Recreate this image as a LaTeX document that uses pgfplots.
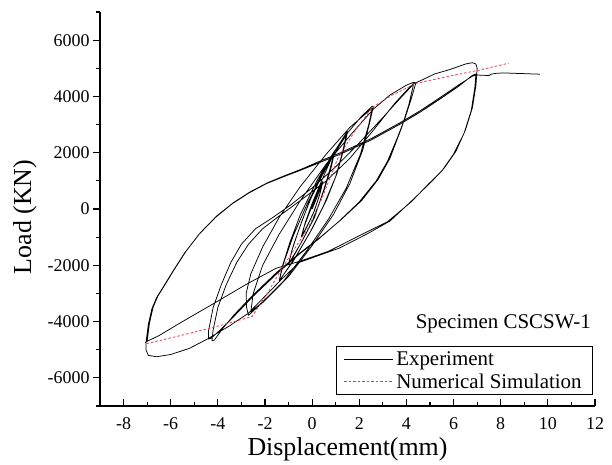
\documentclass[border=0pt]{standalone}
\usepackage{pgfplots}
\pgfplotsset{compat=1.18}
\usepackage{fontspec}
\setmainfont{Liberation Serif}
\definecolor{simred}{HTML}{E0404A}
\newcommand{\tickfont}{\fontsize{18}{20}\selectfont}
\newcommand{\labfont}{\fontsize{26}{30}\selectfont}
\newcommand{\legfont}{\fontsize{21}{24}\selectfont}

\begin{document}
\begin{tikzpicture}
\path[use as bounding box] (-100bp,-59bp) rectangle (512bp,406bp);
\begin{axis}[
  at={(0,0)}, anchor=south west,
  scale only axis, width=495bp, height=394bp,
  xmin=-9, xmax=12, ymin=-7000, ymax=7000,
  axis lines*=left,
  axis line style={line width=1.2bp},
  every tick/.style={line width=1.1bp, black},
  major tick length=7bp, minor tick length=4bp,
  xtick={-8,-6,-4,-2,0,2,4,6,8,10,12},
  xticklabels={-8,-6,-4,-2,0,2,4,6,8,10,12},
  minor xtick={-9,-7,-5,-3,-1,1,3,5,7,9,11},
  ytick={-6000,-4000,-2000,0,2000,4000,6000},
  yticklabels={-6000,-4000,-2000,0,2000,4000,6000},
  minor ytick={-7000,-5000,-3000,-1000,1000,3000,5000,7000},
  xtick align=inside, ytick align=outside,
  tick label style={font=\tickfont},
  xticklabel style={anchor=base, yshift=-23bp},
  xlabel={Displacement(mm)}, ylabel={Load (KN)},
  every axis x label/.style={at={(axis description cs:0.5,0)}, anchor=base, yshift=-49bp, font=\labfont},
  every axis y label/.style={at={(axis description cs:-0.1515,0.48)}, rotate=90, anchor=center, font=\labfont},
  legend style={at={(axis description cs:0.995,0.028)}, anchor=south east,
    draw=black, line width=0.8bp, fill=white, font=\legfont,
    inner xsep=8bp, inner ysep=4bp, row sep=5bp,
    nodes={inner xsep=2.5bp, inner ysep=1bp}},
  legend cell align=left,
  legend image code/.code={\draw[#1] (0bp,0bp) -- (49bp,0bp);},
  clip=false,
]
\addplot[black, line width=0.75bp, line join=round] coordinates {
(0,0) (0.2,400) (0.4,850) (0.45,950)
(0.35,600) (0.1,-50) (-0.15,-500) (-0.4,-900) (-0.45,-950)
(-0.35,-650) (-0.1,-100) (0.15,400) (0.4,900) (0.45,980)
(0.3,450) (0.05,-150) (-0.2,-600) (-0.45,-1000)
(-0.3,-500) (0,200) (0.4,1000) (0.85,1850) (0.9,1900)
(0.75,1400) (0.5,700) (0.1,-300) (-0.4,-1100) (-0.9,-1850) (-1.0,-1950)
(-0.85,-1450) (-0.55,-700) (-0.1,300) (0.4,1150) (0.9,1950) (0.95,2000)
(0.8,1450) (0.5,650) (0.0,-450) (-0.5,-1250) (-1.0,-1950)
(-0.8,-1300) (-0.4,-350) (0.2,900) (0.8,1850) (1.45,2700) (1.5,2750)
(1.35,2150) (1.05,1250) (0.6,300) (0.0,-700) (-0.7,-1700) (-1.35,-2500) (-1.4,-2550)
(-1.25,-2000) (-0.95,-1200) (-0.5,-200) (0.2,1000) (0.9,2000) (1.45,2650)
(1.3,2050) (1.0,1150) (0.5,150) (-0.1,-850) (-0.8,-1850) (-1.4,-2550)
(-1.2,-1900) (-0.8,-950) (-0.2,200) (0.6,1500) (1.5,2700) (2.1,3300) (2.55,3650) (2.6,3650)
(2.45,3100) (2.15,2100) (1.6,900) (0.9,-200) (0.0,-1300) (-1.0,-2400) (-2.0,-3250) (-2.6,-3700) (-2.7,-3780)
(-2.78,-3500) (-2.8,-3000) (-2.6,-2300) (-2.1,-1350) (-1.4,-300) (-0.5,800) (0.6,1950) (1.6,2900) (2.5,3550) (2.55,3580)
(2.4,3000) (2.05,1950) (1.45,750) (0.7,-350) (-0.2,-1450) (-1.2,-2550) (-2.1,-3300) (-2.6,-3650)
(-2.5,-3000) (-2.1,-2000) (-1.4,-900) (-0.5,300) (0.6,1600) (1.7,2700) (2.6,3550) (3.3,4050) (4.0,4400) (4.3,4500) (4.4,4480)
(4.2,3900) (3.95,3250) (3.6,2500) (3.2,1700) (2.72,1000) (2.0,250) (1.15,-430) (0.3,-1050) (-0.55,-1607) (-1.5,-2300) (-2.5,-3100) (-3.3,-3800) (-3.9,-4300) (-4.3,-4600) (-4.4,-4620)
(-4.4,-4350) (-4.2,-3500) (-3.85,-2680) (-3.45,-1900) (-3.0,-1250) (-2.4,-700) (-1.7,-320) (-0.9,150) (0,750) (1.0,1500) (2.0,2350) (3.0,3250) (3.7,3900) (4.2,4350) (4.3,4420)
(4.1,3700) (3.8,2900) (3.3,1800) (2.8,1050) (2.1,300) (1.2,-400) (0.35,-1000) (-0.5,-1550) (-1.5,-2250) (-2.5,-3050) (-3.3,-3750) (-3.8,-4250) (-4.15,-4660) (-4.25,-4680)
(-4.2,-4300) (-4.0,-3500) (-3.65,-2700) (-3.2,-1900) (-2.7,-1250) (-2.1,-700) (-1.4,-250) (-0.5,300) (0.6,1000) (1.6,1800) (2.6,2800) (3.5,3750) (4.1,4300) (4.3,4450)
(4.7,4600) (5.2,4800) (5.7,4920) (6.0,5000) (6.5,5150) (6.8,5200) (6.95,5150) (7.0,5000)
(6.95,4400) (6.8,3600) (6.5,2800) (6.1,2050) (5.6,1450) (5.1,1000) (4.3,350) (3.3,-430) (2.3,-900) (1.15,-1390) (-0.55,-1900) (-1.3,-2500) (-2.0,-3100) (-2.7,-3700) (-3.5,-4150) (-4.4,-4600) (-5.2,-4950) (-6.0,-5170) (-6.6,-5250) (-6.95,-5200) (-7.05,-5000) (-7.05,-4750)
(-6.95,-4100) (-6.8,-3550) (-6.6,-3150) (-6.3,-2750) (-5.9,-2200) (-5.4,-1550) (-4.8,-900) (-4.1,-300) (-3.4,180) (-2.7,560) (-1.96,893) (-1.2,1150) (-0.55,1357) (0.3,1643) (1.2,1950) (2.5,2450) (3.7,3000) (4.6,3450) (5.5,3950) (6.2,4350) (6.8,4750) (6.95,4800)
(6.9,4300) (6.75,3500) (6.45,2700) (6.0,1950) (5.5,1350) (4.95,900) (4.2,250) (3.2,-450) (2.0,-950) (0.7,-1500) (-0.5,-1850) (-1.53,-2107) (-2.8,-2680) (-4.26,-3400) (-5.5,-4000) (-6.5,-4500) (-7.0,-4700) (-7.08,-4750)
(-7.0,-4700) (-6.9,-4050) (-6.75,-3500) (-6.55,-3100) (-6.25,-2700) (-5.85,-2150) (-5.35,-1500) (-4.75,-850) (-4.05,-250) (-3.35,220) (-2.65,600) (-1.9,930) (-1.15,1190) (-0.5,1400) (0.3,1690) (1.2,2000) (2.5,2500) (3.7,3050) (4.6,3500) (5.5,4000) (6.2,4400) (6.8,4720) (7.0,4760)
(7.3,4750) (7.5,4740) (7.6,4790) (7.8,4820) (8.0,4830) (8.3,4830) (8.6,4820) (9.0,4810) (9.3,4800) (9.66,4790)
};
\addlegendentry{Experiment}
\addplot[simred, line width=0.8bp, dash pattern=on 2.5bp off 2bp] coordinates {
(-7.02,-4786) (-5.7,-4520) (-4.4,-4250) (-3.5,-4050) (-2.55,-3820) (-1.9,-3000) (-1.28,-2107) (-0.7,-1350) (-0.17,-680) (0.4,350) (1.1,1821) (1.8,2750) (2.55,3607) (3.4,4050) (4.4,4460) (5.7,4700) (7.06,4930) (8.34,5180)
};
\addlegendentry{Numerical Simulation}
\node[anchor=base east, font=\legfont, inner sep=0pt] at (axis cs:11.83,-4250) {Specimen CSCSW-1};
\end{axis}
\end{tikzpicture}
\end{document}
